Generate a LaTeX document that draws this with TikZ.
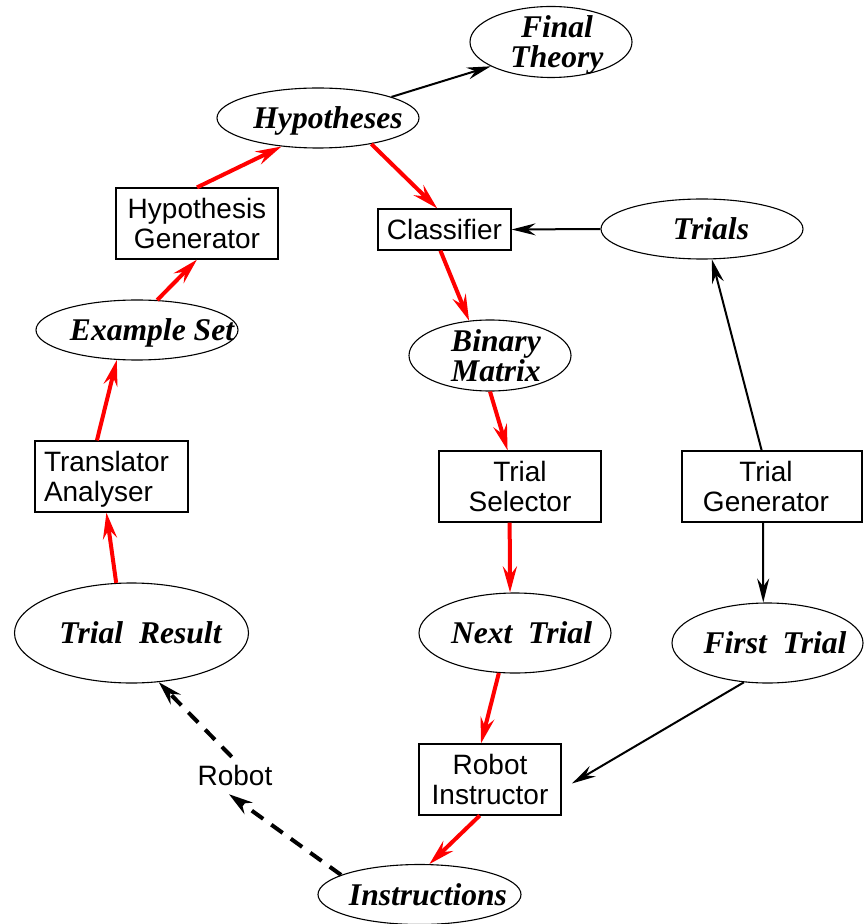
\documentclass[tikz,border=0pt]{standalone}
\usepackage{fontspec}
\setmainfont{Liberation Serif}
\newfontfamily\sansfam{Liberation Sans}
\usetikzlibrary{shapes.geometric,arrows.meta}
\newcommand\sfsize{\sansfam\fontsize{14}{15}\selectfont}
\newcommand\bisize{\fontsize{15.8}{15}\selectfont\bfseries\itshape}
\tikzset{
  ell/.style={draw, ellipse, inner sep=0pt, line width=0.55pt},
  boxnode/.style={draw, rectangle, inner sep=2pt, line width=0.6pt, font=\sfsize, align=center, text depth=0pt},
  lab/.style={font=\bisize, align=center, inner sep=0pt, text depth=0pt},
  redarr/.style={draw=red, line width=2pt, -{Stealth[length=13pt,width=7pt,inset=4.5pt]}},
  blkarr/.style={draw=black, line width=1pt, -{Stealth[length=12pt,width=6pt,inset=4pt]}},
  dasharr/.style={draw=black, line width=2pt, dash pattern=on 7pt off 5pt, -{Stealth[length=12pt,width=7pt,inset=4pt]}}
}
\begin{document}
\begin{tikzpicture}[x=0.5pt,y=-0.5pt]
\useasboundingbox (0,0) rectangle (863,924);
% ellipses
\node[ell, minimum width=81pt, minimum height=35.5pt, label={[lab,xshift=3pt]center:{Final\\Theory}}] (ft) at (551,42) {};
\node[ell, minimum width=101pt, minimum height=30pt, label={[lab,xshift=5pt]center:{Hypotheses}}] (hyp) at (318,118) {};
\node[ell, minimum width=101pt, minimum height=30pt, label={[lab,xshift=7.5pt]center:{Example Set}}] (es) at (137,330) {};
\node[ell, minimum width=101pt, minimum height=30pt, label={[lab,xshift=4.5pt]center:{Trials}}] (tri) at (702,229) {};
\node[ell, minimum width=81pt, minimum height=35.5pt, label={[lab,xshift=3pt]center:{Binary\\Matrix}}] (bm) at (490,355.5) {};
\node[ell, minimum width=117pt, minimum height=50pt, label={[lab,xshift=4.5pt]center:{Trial~~Result}}] (tr) at (131.5,633) {};
\node[ell, minimum width=96pt, minimum height=40pt, label={[lab,xshift=3.25pt]center:{Next~~Trial}}] (nt) at (515,633) {};
\node[ell, minimum width=95.5pt, minimum height=40pt, label={[lab,xshift=3.75pt]center:{First~~Trial}}] (fst) at (767.5,643) {};
\node[ell, minimum width=101.5pt, minimum height=30pt, label={[lab,xshift=4.25pt]center:{Instructions}}] (ins) at (419.5,894.5) {};
% boxes
\node[boxnode, minimum width=81pt, minimum height=35.5pt] (hg) at (197,223.5) {Hypothesis\\Generator};
\node[boxnode, minimum width=66.5pt, minimum height=20.5pt] (cls) at (444.5,229.5) {Classifier};
\node[boxnode, minimum width=76.5pt, minimum height=35.5pt, align=left] (ta) at (111.5,476.5) {Translator\hspace*{5pt}\\Analyser};
\node[boxnode, minimum width=81pt, minimum height=35.5pt] (tsel) at (520,486.5) {Trial\\Selector};
\node[boxnode, minimum width=90pt, minimum height=35.5pt] (tgen) at (772,486.5) {Trial\hspace*{6pt}\\Generator\hspace*{6pt}};
\node[boxnode, minimum width=71pt, minimum height=35.5pt] (ri) at (490,779.5) {Robot\\Instructor};
\node[font=\sfsize, inner sep=4pt] (robot) at (235,775.5) {Robot};
% connectors
\draw[blkarr] (hyp.16) -- (ft.202);
\draw[redarr] (hg.north) -- (hyp.218);
\draw[redarr] (hyp.334) -- (cls.109);
\draw[redarr] (es.56) -- (hg.south);
\draw[redarr] (ta.112) -- (es.236);
\draw[redarr] (tr.107) -- (ta.262);
\draw[redarr] (cls.259) -- (bm.121);
\draw[blkarr] (tri.west) -- (cls.east);
\draw[blkarr] (tgen.106) -- (tri.288);
\draw[redarr] (bm.south) -- (tsel.109);
\draw[redarr] (tsel.254) -- (nt.97);
\draw[blkarr] (tgen.256) -- (fst.96);
\draw[redarr] (nt.248) -- (ri.104);
\draw[blkarr, shorten >=6pt] (fst.239) -- (ri.352);
\draw[redarr] (ri.254) -- (ins.72);
\draw[dasharr] (ins.166) -- (robot.252);
\draw[dasharr] (robot.100) -- (tr.299);
\end{tikzpicture}
\end{document}
